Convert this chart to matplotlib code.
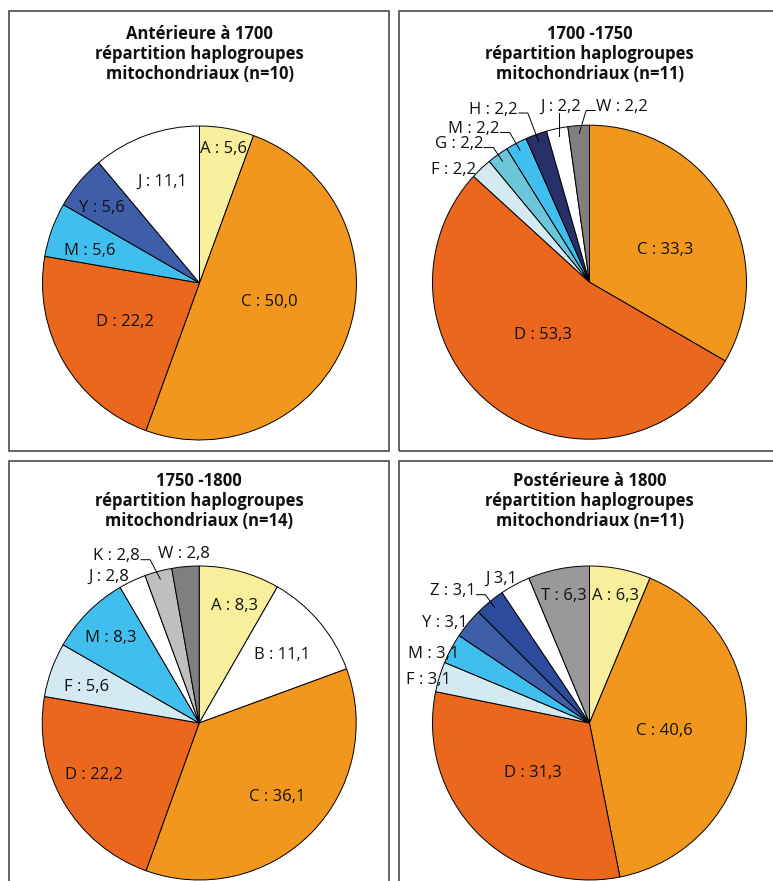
import matplotlib
matplotlib.use("Agg")
import matplotlib.pyplot as plt
import numpy as np
from matplotlib.patches import Rectangle
from matplotlib.lines import Line2D

plt.rcParams['font.family'] = ['Open Sans', 'DejaVu Sans']

# ---------------- data ----------------
titles = [
    ["Antérieure à 1700", "répartition haplogroupes", "mitochondriaux (n=10)"],
    ["1700 -1750", "répartition haplogroupes", "mitochondriaux (n=11)"],
    ["1750 -1800", "répartition haplogroupes", "mitochondriaux (n=14)"],
    ["Postérieure à 1800", "répartition haplogroupes", "mitochondriaux (n=11)"],
]

p1_groups = ["A", "C", "D", "M", "Y", "J"]
p1_values = [5.6, 50.0, 22.2, 5.6, 5.6, 11.1]

p2_groups = ["C", "D", "F", "G", "M", "H", "J", "W"]
p2_values = [33.3, 53.3, 2.2, 2.2, 2.2, 2.2, 2.2, 2.2]

p3_groups = ["A", "B", "C", "D", "F", "M", "J", "K", "W"]
p3_values = [8.3, 11.1, 36.1, 22.2, 5.6, 8.3, 2.8, 2.8, 2.8]

p4_groups = ["A", "C", "D", "F", "M", "Y", "Z", "J", "T"]
p4_values = [6.3, 40.6, 31.3, 3.1, 3.1, 3.1, 3.1, 3.1, 6.3]
p4_separators = [" : ", " : ", " : ", " : ", " : ", " : ", " : ", " ", " : "]

colors = {
    "A": "#F8EF9D", "B": "#FFFFFF", "C": "#F2971E", "D": "#EB671E",
    "F": "#D3EAF2", "G": "#6CC6D9", "H": "#283069", "J": "#FFFFFF",
    "K": "#BFBFBF", "M": "#40BFEF", "T": "#999999", "W": "#7F7F7F",
    "Y": "#3F5EA9", "Z": "#2C4B9B",
}

# ---------------- layout (pixels) ----------------
W, H, DPI = 773, 881, 100
R = 157.0

# label placement: ('in', radius, dtheta) or ('out', dx_px, dy_px, leader)
p1_place = [("in", 0.88, 0), ("in", 0.455, 6.5), ("in", 0.53, -3.6),
            ("in", 0.73, 2.4), ("in", 0.79, 1.7), ("in", 0.70, 0)]
p2_place = [("in", 0.53, -6), ("in", 0.44, -6.2),
            ("out", -136, 114.7, None), ("out", -130.5, 140.2, "right"),
            ("out", -115.5, 155.2, "right"), ("out", -96, 174.7, "right"),
            ("out", -28.5, 177.2, "vert"), ("out", 32.5, 177.2, "left")]
p3_place = [("in", 0.79, -1.5), ("in", 0.69, 0), ("in", 0.675, 2),
            ("in", 0.74, -5), ("in", 0.76, 1), ("in", 0.79, 0.5),
            ("out", -90, 148, None), ("out", -82.5, 168.8, "right"),
            ("out", -15.7, 170.5, None)]
p4_place = [("in", 0.84, 0), ("in", 0.48, 1), ("in", 0.47, -4.4),
            ("out", -161, 44.7, None), ("out", -155.5, 71.3, None),
            ("out", -144.5, 102.2, None), ("out", -137, 133.8, "right"),
            ("out", -88.5, 146.3, None), ("in", 0.84, 0)]

panels = [
    dict(groups=p1_groups, values=p1_values, seps=None, place=p1_place,
         center=(199.5, 283.0), ax=(0, 0, 394, 456),
         box=(9.3, 10.7, 389.3, 451.0), title_y=(32, 52, 72)),
    dict(groups=p2_groups, values=p2_values, seps=None, place=p2_place,
         center=(589.5, 282.2), ax=(394, 0, 773, 456),
         box=(399.3, 10.7, 790, 451.0), title_y=(32, 52, 72)),
    dict(groups=p3_groups, values=p3_values, seps=None, place=p3_place,
         center=(199.2, 723.0), ax=(0, 456, 394, 881),
         box=(9.3, 460.7, 389.3, 900), title_y=(479, 499, 519)),
    dict(groups=p4_groups, values=p4_values, seps=p4_separators, place=p4_place,
         center=(589.5, 723.0), ax=(394, 456, 773, 881),
         box=(399.3, 460.7, 790, 900), title_y=(479, 499, 519)),
]

fig = plt.figure(figsize=(W / DPI, H / DPI), dpi=DPI)
fig.patch.set_facecolor("white")
renderer = fig.canvas.get_renderer()

LABEL_FS = 12
TITLE_FS = 12


def fmt(v):
    return f"{v:.1f}".replace(".", ",")


for p in panels:
    cx, cy = p["center"]
    x0, y0, x1, y1 = p["ax"]
    ax = fig.add_axes([x0 / W, 1 - y1 / H, (x1 - x0) / W, (y1 - y0) / H])
    cols = [colors[g] for g in p["groups"]]
    wedges, _ = ax.pie(p["values"], colors=cols, startangle=90, counterclock=False,
                       radius=1.0, wedgeprops=dict(edgecolor="black", linewidth=0.7))
    ax.set_aspect("auto")
    ax.set_xlim((x0 - cx) / R, (x1 - cx) / R)
    ax.set_ylim((cy - y1) / R, (cy - y0) / R)
    ax.axis("off")

    # box
    bx0, by0, bx1, by1 = p["box"]
    fig.add_artist(Rectangle((bx0 / W, 1 - by1 / H), (bx1 - bx0) / W, (by1 - by0) / H,
                             transform=fig.transFigure, fill=False,
                             edgecolor="#4a4a4a", linewidth=1.2, clip_on=False))
    # title
    for line, ty in zip(titles[panels.index(p)], p["title_y"]):
        fig.text(cx / W, 1 - ty / H, line, ha="center", va="center_baseline",
                 fontsize=TITLE_FS, fontweight="bold", color="#111111")

    seps = p["seps"] or [" : "] * len(p["groups"])
    for w, g, v, s, pl in zip(wedges, p["groups"], p["values"], seps, p["place"]):
        mid = np.deg2rad((w.theta1 + w.theta2) / 2.0)
        txt = f"{g}{s}{fmt(v)}"
        if pl[0] == "in":
            _, r, dth = pl
            a = mid + np.deg2rad(dth)
            ax.text(r * np.cos(a), r * np.sin(a), txt, ha="center", va="center_baseline",
                    fontsize=LABEL_FS, color="#111111")
        else:
            _, dx, dy, leader = pl
            tx, ty = dx / R, dy / R
            t = ax.text(tx, ty, txt, ha="center", va="center_baseline",
                        fontsize=LABEL_FS, color="#111111")
            if leader is None:
                continue
            bb = t.get_window_extent(renderer=renderer)
            inv = ax.transData.inverted()
            (lx0, ly0), (lx1, ly1) = inv.transform([(bb.x0, bb.y0), (bb.x1, bb.y1)])
            ex, ey = 0.95 * np.cos(mid), 0.95 * np.sin(mid)
            base = ty - 5.5 / R
            if leader == "right":
                xs = [lx1 + 1 / R, lx1 + 10 / R, ex]
                ys = [base, base, ey]
            elif leader == "left":
                xs = [lx0 - 1 / R, lx0 - 10 / R, ex]
                ys = [base, base, ey]
            else:
                xs = [ex, ex]
                ys = [ly0 + 2 / R, ey]
            ax.add_line(Line2D(xs, ys, color="black", linewidth=0.7, clip_on=False))

fig.savefig("out.png", dpi=DPI, facecolor="white")
